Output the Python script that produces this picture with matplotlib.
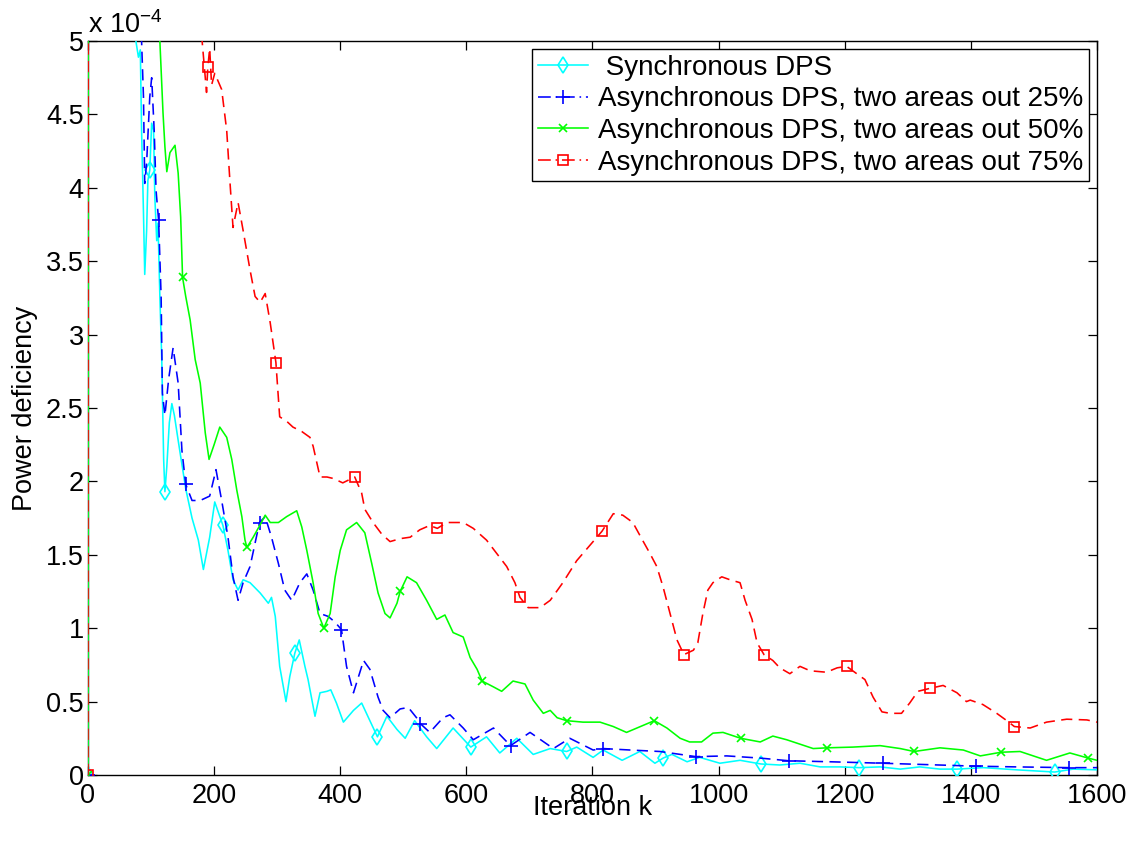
import numpy as np
import matplotlib
matplotlib.use("Agg")
import matplotlib.pyplot as plt
from matplotlib.lines import Line2D
from matplotlib.ticker import MultipleLocator, FormatStrFormatter

plt.rcParams['font.family'] = ['Liberation Sans', 'DejaVu Sans']
plt.rcParams['mathtext.fontset'] = 'custom'
plt.rcParams['mathtext.rm'] = 'Liberation Sans'
plt.rcParams['mathtext.it'] = 'Liberation Sans:italic'

#------------------ data (power deficiency, units of 1e-4) ------------------

labels = [" Synchronous DPS",
          "Asynchronous DPS, two areas out 25%",
          "Asynchronous DPS, two areas out 50%",
          "Asynchronous DPS, two areas out 75%"]

k_sync = [0, 1, 72, 76, 80, 83, 85, 88, 90, 93, 95, 98, 101, 104, 106, 109, 111, 114, 117, 120,
          122, 125, 129, 133, 137, 143, 155, 165, 175, 183, 193, 201, 214, 222, 230, 238, 246,
          257, 273, 286, 291, 297, 304, 314, 320, 328, 335, 344, 349, 360, 368, 379, 385, 394,
          405, 421, 434, 447, 459, 474, 490, 503, 518, 537, 553, 579, 607, 632, 653, 680, 706,
          733, 759, 775, 801, 817, 847, 875, 899, 912, 926, 950, 970, 1002, 1034, 1067, 1097,
          1129, 1161, 1192, 1223, 1256, 1288, 1319, 1351, 1378, 1420, 1473, 1533, 1562, 1600]
p_sync = [0, 20, 5.3, 5.0, 4.89, 4.94, 4.39, 3.83, 3.41, 3.71, 4.05, 4.12, 4.44, 4.39, 3.94, 3.64,
          3.76, 3.26, 2.83, 2.15, 1.93, 2.1, 2.4, 2.53, 2.45, 2.28, 1.95, 1.75, 1.6, 1.40, 1.62,
          1.86, 1.70, 1.53, 1.33, 1.26, 1.33, 1.31, 1.24, 1.17, 1.21, 1.08, 0.74, 0.50, 0.67,
          0.83, 0.92, 0.74, 0.65, 0.40, 0.56, 0.57, 0.58, 0.49, 0.36, 0.44, 0.49, 0.37, 0.26,
          0.40, 0.31, 0.25, 0.37, 0.26, 0.18, 0.32, 0.19, 0.26, 0.15, 0.25, 0.14, 0.18, 0.16,
          0.19, 0.12, 0.17, 0.10, 0.16, 0.08, 0.115, 0.14, 0.09, 0.12, 0.08, 0.10, 0.075, 0.068,
          0.08, 0.055, 0.055, 0.05, 0.055, 0.04, 0.055, 0.04, 0.04, 0.05, 0.035, 0.02, 0.04, 0.035]
mk_sync = [0, 98, 122, 214, 328, 459, 607, 759, 912, 1067, 1223, 1378, 1533]

k_a25 = [0, 1, 82, 85, 88, 90, 93, 98, 101, 105, 108, 112, 116, 118, 122, 128, 135, 143, 149,
         155, 165, 178, 193, 203, 212, 222, 230, 238, 246, 257, 272, 281, 291, 302, 312, 323,
         336, 347, 357, 368, 381, 392, 402, 410, 421, 437, 447, 460, 468, 479, 495, 508, 521,
         527, 542, 563, 574, 595, 611, 643, 670, 701, 738, 764, 801, 817, 860, 907, 964, 1013,
         1066, 1111, 1177, 1260, 1335, 1408, 1473, 1556, 1600]
p_a25 = [0, 20, 5.3, 5.0, 4.62, 4.03, 4.17, 4.62, 4.75, 4.39, 3.98, 3.78, 3.26, 2.6, 2.45, 2.7,
         2.91, 2.67, 2.21, 1.98, 1.87, 1.87, 1.90, 2.08, 1.87, 1.62, 1.35, 1.19, 1.31, 1.42, 1.72,
         1.76, 1.62, 1.44, 1.26, 1.19, 1.31, 1.37, 1.26, 1.10, 1.08, 1.04, 0.99, 0.74, 0.56, 0.78,
         0.72, 0.53, 0.44, 0.39, 0.45, 0.46, 0.39, 0.35, 0.29, 0.39, 0.41, 0.32, 0.24, 0.32, 0.20,
         0.29, 0.18, 0.25, 0.17, 0.18, 0.17, 0.16, 0.125, 0.13, 0.115, 0.097, 0.09, 0.08, 0.07,
         0.06, 0.055, 0.05, 0.05]
mk_a25 = [0, 112, 155, 272, 402, 527, 670, 817, 964, 1111, 1260, 1408, 1556]

k_a50 = [0, 1, 111, 114, 119, 122, 125, 130, 138, 143, 147, 150, 155, 162, 170, 178, 186, 192,
         200, 209, 220, 228, 236, 244, 249, 252, 262, 275, 281, 289, 302, 315, 331, 339, 347, 357,
         365, 374, 384, 392, 400, 410, 426, 439, 450, 460, 471, 479, 490, 495, 506, 521, 537, 553,
         566, 579, 595, 606, 617, 625, 643, 656, 674, 693, 706, 722, 733, 744, 759, 785, 812, 833,
         854, 898, 918, 939, 954, 973, 991, 1007, 1035, 1066, 1086, 1108, 1150, 1172, 1213, 1256,
         1288, 1310, 1351, 1388, 1415, 1448, 1478, 1520, 1557, 1586, 1600]
p_a50 = [0, 20, 5.3, 5.0, 4.51, 4.28, 4.11, 4.24, 4.29, 4.10, 3.8, 3.39, 3.26, 3.10, 2.83, 2.67,
         2.33, 2.15, 2.25, 2.37, 2.30, 2.15, 1.94, 1.76, 1.60, 1.55, 1.62, 1.72, 1.77, 1.72, 1.72,
         1.76, 1.80, 1.69, 1.53, 1.31, 1.10, 1.00, 1.10, 1.35, 1.53, 1.67, 1.72, 1.65, 1.44, 1.24,
         1.10, 1.07, 1.17, 1.25, 1.35, 1.31, 1.19, 1.06, 1.09, 0.97, 0.94, 0.80, 0.72, 0.64, 0.60,
         0.57, 0.64, 0.62, 0.51, 0.42, 0.44, 0.39, 0.37, 0.36, 0.36, 0.33, 0.29, 0.37, 0.32, 0.25,
         0.225, 0.225, 0.285, 0.29, 0.25, 0.225, 0.265, 0.24, 0.18, 0.185, 0.19, 0.20, 0.18, 0.16,
         0.185, 0.17, 0.13, 0.155, 0.16, 0.10, 0.15, 0.115, 0.10]
mk_a50 = [0, 150, 252, 374, 495, 625, 759, 898, 1035, 1172, 1310, 1448, 1586]

k_a75 = [0, 1, 178, 181, 186, 188, 190, 193, 196, 201, 212, 220, 225, 230, 238, 246, 257, 265,
         273, 281, 289, 298, 304, 315, 325, 339, 352, 357, 368, 379, 389, 404, 423, 434, 439, 452,
         466, 479, 495, 511, 526, 542, 554, 569, 595, 611, 632, 648, 664, 677, 685, 698, 717, 733,
         753, 775, 793, 815, 833, 848, 864, 878, 891, 902, 912, 923, 934, 945, 960, 967, 975, 983,
         991, 1005, 1018, 1034, 1042, 1053, 1061, 1072, 1086, 1097, 1113, 1129, 1145, 1171, 1188,
         1203, 1219, 1232, 1245, 1259, 1272, 1290, 1303, 1316, 1335, 1356, 1378, 1393, 1399, 1419,
         1441, 1457, 1469, 1494, 1520, 1552, 1584, 1600]
p_a75 = [0, 20, 5.3, 5.0, 4.75, 4.65, 4.82, 4.95, 4.7, 4.78, 4.67, 4.39, 4.05, 3.73, 3.9, 3.71,
         3.44, 3.26, 3.22, 3.28, 3.08, 2.81, 2.44, 2.41, 2.37, 2.34, 2.30, 2.24, 2.03, 2.03, 2.02,
         1.99, 2.03, 1.92, 1.81, 1.72, 1.64, 1.59, 1.61, 1.62, 1.67, 1.70, 1.68, 1.72, 1.72, 1.68,
         1.60, 1.51, 1.42, 1.31, 1.21, 1.14, 1.14, 1.19, 1.31, 1.46, 1.55, 1.66, 1.78, 1.77, 1.72,
         1.61, 1.51, 1.42, 1.28, 1.10, 0.92, 0.82, 0.85, 0.90, 1.10, 1.26, 1.31, 1.35, 1.33, 1.31,
         1.19, 1.06, 0.90, 0.82, 0.78, 0.73, 0.69, 0.74, 0.71, 0.70, 0.73, 0.74, 0.69, 0.65, 0.53,
         0.43, 0.42, 0.42, 0.49, 0.57, 0.59, 0.61, 0.56, 0.50, 0.51, 0.48, 0.42, 0.37, 0.33, 0.32,
         0.36, 0.38, 0.375, 0.36]
mk_a75 = [0, 190, 298, 423, 554, 685, 815, 945, 1072, 1203, 1335, 1469]

#------------------ figure ------------------

fs = 19.5
fig = plt.figure(figsize=(11.47, 8.41), dpi=100)
ax = fig.add_axes([0.0767, 0.0785, 0.8797, 0.8727])

series = [(k_sync, p_sync, mk_sync, '#00ffff', '-', 'd', 8),
          (k_a25, p_a25, mk_a25, '#0000ff', (0, (7, 4)), '+', 10),
          (k_a50, p_a50, mk_a50, '#00ff00', '-', 'x', 6),
          (k_a75, p_a75, mk_a75, '#ff0000', (0, (7, 4)), 's', 7.5)]

handles = []
for (k, p, mk, col, ls, m, ms), lab in zip(series, labels):
    idx = [k.index(v) for v in mk]
    ax.plot(k, p, color=col, linestyle=ls, lw=1.15, marker=m, markevery=idx, zorder=3,
            markersize=ms, markerfacecolor='none', markeredgecolor=col, markeredgewidth=1.2)
    leg_ls = '-' if ls == '-' else (0, (8, 3, 1, 3))
    handles.append(Line2D([], [], color=col, linestyle=leg_ls, lw=1.15, marker=m,
                          markersize=ms, markerfacecolor='none', markeredgewidth=1.2, label=lab))

ax.set_xlim(0, 1600)
ax.set_ylim(0, 5)
ax.xaxis.set_major_locator(MultipleLocator(200))
ax.yaxis.set_major_locator(MultipleLocator(0.5))
ax.yaxis.set_major_formatter(FormatStrFormatter('%g'))
ax.tick_params(direction='in', length=6.5, width=0.9, top=True, right=True, labelsize=fs)
ax.tick_params(axis='x', pad=6)
ax.tick_params(axis='y', pad=3)
for s in ax.spines.values():
    s.set_linewidth(1.0)

ax.set_xlabel("Iteration k", fontsize=fs, labelpad=-10)
ax.set_ylabel("Power deficiency", fontsize=fs, labelpad=6)
ax.text(0.0, 1.011, r'x 10$^{-4}$', transform=ax.transAxes, fontsize=fs, va='baseline', ha='left')

leg = ax.legend(handles=handles, loc='upper right', fontsize=20, frameon=True, fancybox=False,
                edgecolor='black', framealpha=1, handlelength=1.8, handletextpad=0.35,
                labelspacing=0.2, borderpad=0.2, borderaxespad=0.3)
leg.get_frame().set_linewidth(1.0)

fig.savefig("out.png", dpi=100)
